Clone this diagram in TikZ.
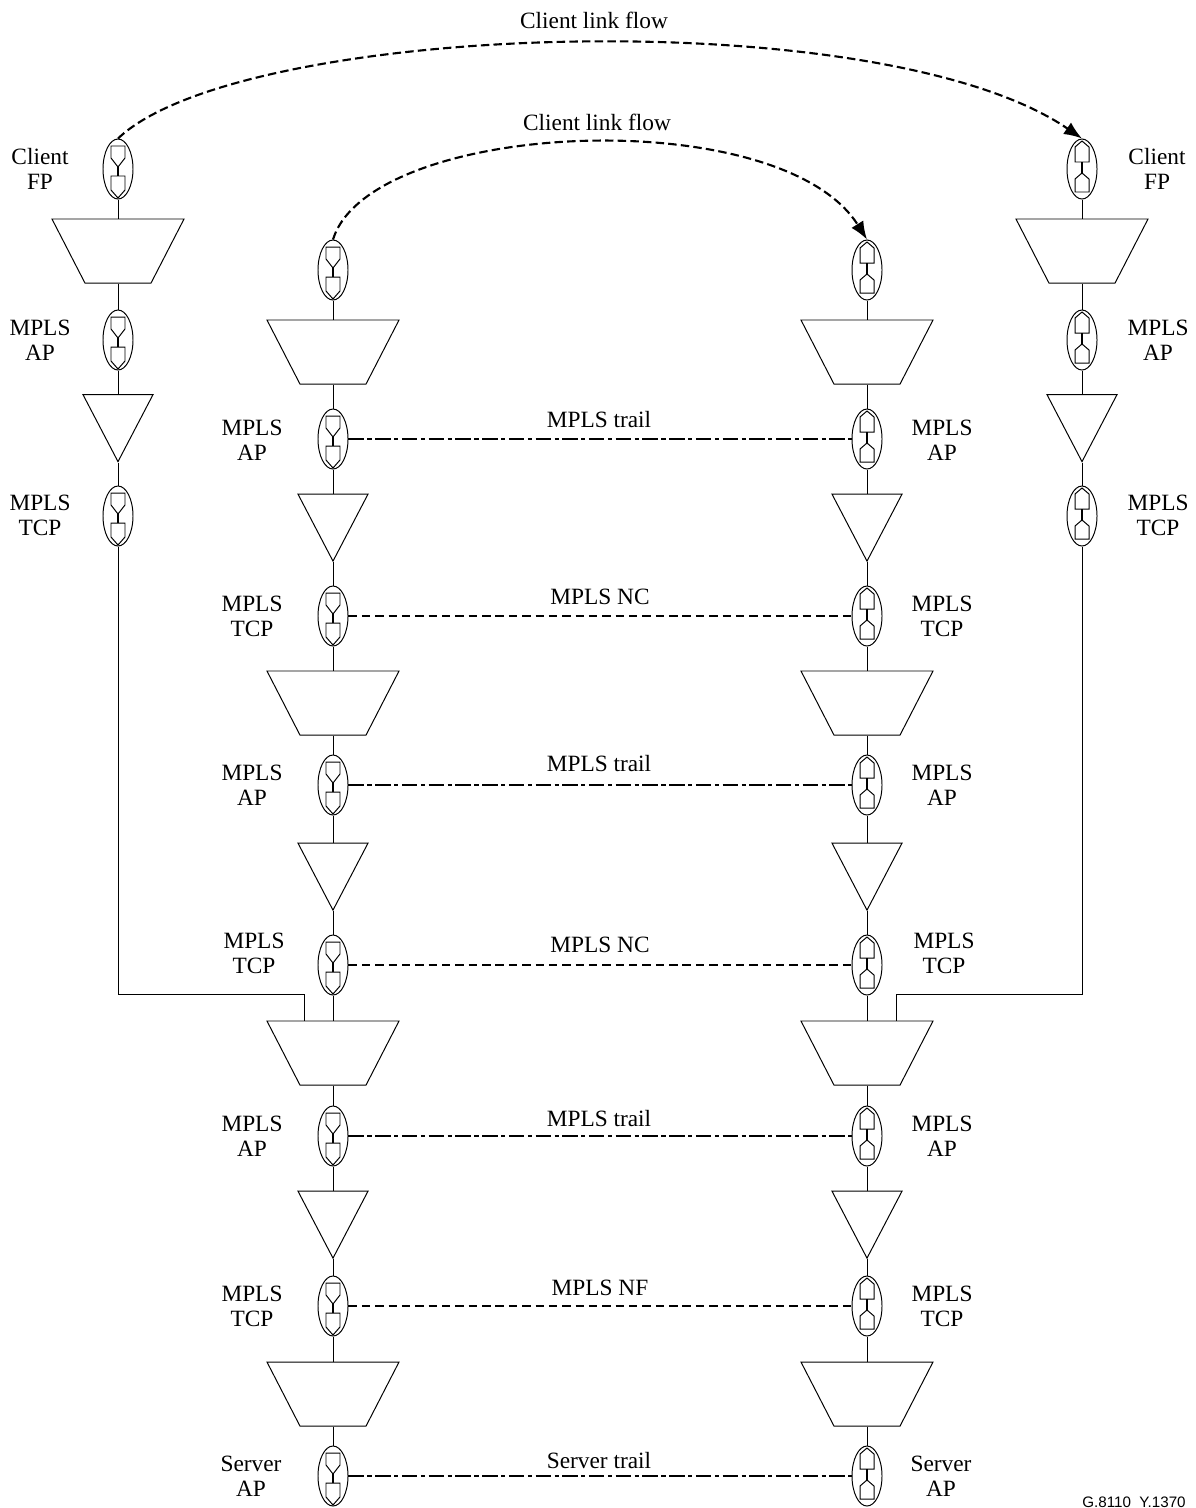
\documentclass[tikz,border=0pt]{standalone}
\usepackage{fontspec}
\setmainfont{Liberation Serif}
\setsansfont{Liberation Sans}
\usepackage{tikz}
\usetikzlibrary{shapes.geometric,arrows.meta}

\begin{document}
\begin{tikzpicture}
   [
   x=0.025cm, y=-0.025cm,
   line width=0.7pt,
   every node/.style={font=\fontsize{16.6}{17.8}\selectfont},
   downball/.style={ellipse, draw=black, minimum width=0.75cm, minimum height=1.5cm, inner sep=0pt,
     path picture={
       \draw[shift={(path picture bounding box.center)}, line width=0.7pt]
         (-7,-23) -- (7,-23) -- (7,-11) -- (0,-2) -- (-7,-11) -- cycle
         (-7,7) -- (7,7) -- (7,21) -- (0,29) -- (-7,21) -- cycle;
       \draw[shift={(path picture bounding box.center)}, line width=1.2pt] (0,-2) -- (0,7);
     }},
   upball/.style={ellipse, draw=black, minimum width=0.75cm, minimum height=1.5cm, inner sep=0pt,
     path picture={
       \draw[shift={(path picture bounding box.center)}, line width=0.7pt]
         (-7,-7) -- (7,-7) -- (7,-22) -- (0,-28) -- (-7,-22) -- cycle
         (-7,23) -- (7,23) -- (7,10) -- (0,4) -- (-7,10) -- cycle;
       \draw[shift={(path picture bounding box.center)}, line width=1.2pt] (0,-7) -- (0,4);
     }},
   mux/.style={trapezium, draw=black, shape border rotate=180, trapezium stretches=true,
     trapezium angle=63.5, minimum width=3.3cm, minimum height=1.6cm, inner sep=1pt},
   adapt/.style={isosceles triangle, draw=black, shape border rotate=-90, isosceles triangle stretches=true,
     minimum width=1.75cm, minimum height=1.675cm, inner sep=1pt},
   textbox/.style={align=center, inner sep=0pt},
   trail/.style={line width=1.2pt, dash pattern=on 11pt off 2.5pt on 3pt off 2.5pt},
   conn/.style={line width=1.3pt, dash pattern=on 6pt off 3.5pt},
   flow/.style={line width=1.5pt, dash pattern=on 6pt off 3pt, -{Latex[length=4.5mm,width=3.5mm]}},
   ]
 \useasboundingbox (0,0) rectangle (1196,1508);
 % left column
 \node at (118,169) [downball] (l1) {};
 \node at (118,251) [mux] (lm1) {};
 \node at (118,340) [downball] (l2) {};
 \node at (118,415.5) [adapt] (lt1) {};
 \node at (118,516) [downball] (l3) {};
 % right column
 \node at (1082,169) [upball] (r1) {};
 \node at (1082,251) [mux] (rm1) {};
 \node at (1082,340) [upball] (r2) {};
 \node at (1082,415.5) [adapt] (rt1) {};
 \node at (1082,516) [upball] (r3) {};
 % inner left
 \node at (333,270) [downball] (a1) {};
 \node at (333,352) [mux] (am1) {};
 \node at (333,439) [downball] (a2) {};
 \node at (333,515) [adapt] (at1) {};
 \node at (333,616) [downball] (a3) {};
 \node at (333,703) [mux] (am2) {};
 \node at (333,785) [downball] (a4) {};
 \node at (333,864) [adapt] (at2) {};
 \node at (333,965) [downball] (a5) {};
 \node at (333,1053) [mux] (am3) {};
 \node at (333,1136) [downball] (a6) {};
 \node at (333,1212) [adapt] (at3) {};
 \node at (333,1306) [downball] (a7) {};
 \node at (333,1394) [mux] (am4) {};
 \node at (333,1476) [downball] (a8) {};
 % inner right
 \node at (867,270) [upball] (b1) {};
 \node at (867,352) [mux] (bm1) {};
 \node at (867,439) [upball] (b2) {};
 \node at (867,515) [adapt] (bt1) {};
 \node at (867,616) [upball] (b3) {};
 \node at (867,703) [mux] (bm2) {};
 \node at (867,785) [upball] (b4) {};
 \node at (867,864) [adapt] (bt2) {};
 \node at (867,965) [upball] (b5) {};
 \node at (867,1053) [mux] (bm3) {};
 \node at (867,1136) [upball] (b6) {};
 \node at (867,1212) [adapt] (bt3) {};
 \node at (867,1306) [upball] (b7) {};
 \node at (867,1394) [mux] (bm4) {};
 \node at (867,1476) [upball] (b8) {};
 % vertical lines
 \draw (l1.south) -- (lm1.north);
 \draw (lm1.south) -- (l2.north);
 \draw (l2.south) -- (lt1.lower side);
 \draw (lt1.apex) -- (l3.north);
 \draw (r1.south) -- (rm1.north);
 \draw (rm1.south) -- (r2.north);
 \draw (r2.south) -- (rt1.lower side);
 \draw (rt1.apex) -- (r3.north);
 \draw (a1.south) -- (am1.north);
 \draw (am1.south) -- (a2.north);
 \draw (a2.south) -- (at1.lower side);
 \draw (at1.apex) -- (a3.north);
 \draw (a3.south) -- (am2.north);
 \draw (am2.south) -- (a4.north);
 \draw (a4.south) -- (at2.lower side);
 \draw (at2.apex) -- (a5.north);
 \draw (a5.south) -- (am3.north);
 \draw (am3.south) -- (a6.north);
 \draw (a6.south) -- (at3.lower side);
 \draw (at3.apex) -- (a7.north);
 \draw (a7.south) -- (am4.north);
 \draw (am4.south) -- (a8.north);
 \draw (b1.south) -- (bm1.north);
 \draw (bm1.south) -- (b2.north);
 \draw (b2.south) -- (bt1.lower side);
 \draw (bt1.apex) -- (b3.north);
 \draw (b3.south) -- (bm2.north);
 \draw (bm2.south) -- (b4.north);
 \draw (b4.south) -- (bt2.lower side);
 \draw (bt2.apex) -- (b5.north);
 \draw (b5.south) -- (bm3.north);
 \draw (bm3.south) -- (b6.north);
 \draw (b6.south) -- (bt3.lower side);
 \draw (bt3.apex) -- (b7.north);
 \draw (b7.south) -- (bm4.north);
 \draw (bm4.south) -- (b8.north);
 % long runs into the muxes
 \draw (l3.south) -- (118,994) -- (304,994) -- (304,1021);
 \draw (r3.south) -- (1082,994) -- (896,994) -- (896,1021);
 % trails
 \draw[trail] (a2.east) -- (b2.west);
 \draw[conn] (a3.east) -- (b3.west);
 \draw[trail] (a4.east) -- (b4.west);
 \draw[conn] (a5.east) -- (b5.west);
 \draw[trail, line width=1.7pt] (a6.east) -- (b6.west);
 \draw[conn, line width=1pt] (a7.east) -- (b7.west);
 \draw[trail, line width=1.7pt] (a8.east) -- (b8.west);
 % client flows
 \draw[flow] (l1.north) .. controls (240,22) and (880,0) .. (r1.north);
 \draw[flow] (a1.north) .. controls (370,120) and (780,101) .. (b1.north);
 % labels
 \node at (594,20) [textbox] (f1) {Client link flow};
 \node at (597,122) [textbox] (f2) {Client link flow};
 \node at (599,420) [textbox] (t1) {MPLS trail};
 \node at (600,597) [textbox] (t2) {MPLS NC};
 \node at (599,764) [textbox] (t3) {MPLS trail};
 \node at (600,945) [textbox] (t4) {MPLS NC};
 \node at (599,1118) [textbox] (t5) {MPLS trail};
 \node at (600,1288) [textbox] (t6) {MPLS NF};
 \node at (599,1460) [textbox] (t7) {Server trail};
 \node at (40,169) [textbox] (n1) {Client\\FP};
 \node at (40,340) [textbox] (n2) {MPLS\\AP};
 \node at (40,515) [textbox] (n3) {MPLS\\TCP};
 \node at (1157,169) [textbox] (n4) {Client\\FP};
 \node at (1158,340) [textbox] (n5) {MPLS\\AP};
 \node at (1158,515) [textbox] (n6) {MPLS\\TCP};
 \node at (252,440) [textbox] (n7) {MPLS\\AP};
 \node at (252,616) [textbox] (n8) {MPLS\\TCP};
 \node at (252,785) [textbox] (n9) {MPLS\\AP};
 \node at (254,953) [textbox] (n10) {MPLS\\TCP};
 \node at (252,1136) [textbox] (n11) {MPLS\\AP};
 \node at (252,1306) [textbox] (n12) {MPLS\\TCP};
 \node at (251,1476) [textbox] (n13) {Server\\AP};
 \node at (942,440) [textbox] (n14) {MPLS\\AP};
 \node at (942,616) [textbox] (n15) {MPLS\\TCP};
 \node at (942,785) [textbox] (n16) {MPLS\\AP};
 \node at (944,953) [textbox] (n17) {MPLS\\TCP};
 \node at (942,1136) [textbox] (n18) {MPLS\\AP};
 \node at (942,1306) [textbox] (n19) {MPLS\\TCP};
 \node at (941,1476) [textbox] (n20) {Server\\AP};
 \node at (1134,1507) [anchor=base, inner sep=0pt, font=\sffamily\fontsize{10.8}{12}\selectfont] (id) {G.8110\_Y.1370};
\end{tikzpicture}
\end{document}
